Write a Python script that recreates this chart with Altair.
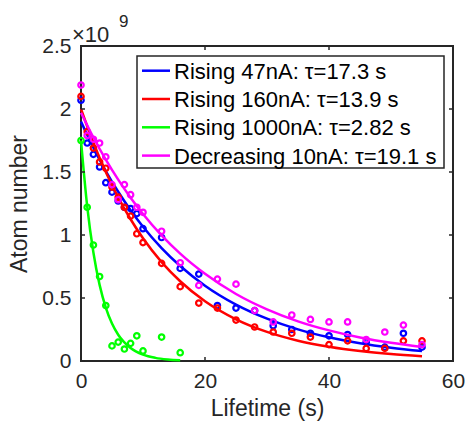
import altair as alt
import pandas as pd

# ---- data ----
t_pts = [0, 1, 2, 3, 4, 5, 6, 7, 8, 9, 10, 13, 16, 19, 22, 25, 28, 31, 34, 37, 40, 43, 46, 49, 52, 55]
blue_pts = [2.07, 1.73, 1.64, 1.54, 1.415, 1.34, 1.27, 1.22, 1.21, 1.17, 1.05, 0.98, 0.735, 0.69,
            0.44, 0.42, 0.40, 0.28, 0.25, 0.22, 0.20, 0.21, 0.15, 0.11, 0.22, 0.11]
red_pts = [2.10, 1.82, 1.69, 1.58, 1.53, 1.38, 1.30, 1.22, 1.15, 1.01, 0.94, 0.775, 0.59, 0.46,
           0.42, 0.325, 0.27, 0.23, 0.22, 0.19, 0.13, 0.16, 0.10, 0.10, 0.16, 0.16]
magenta_pts = [2.19, 1.79, 1.76, 1.73, 1.62, 1.40, 1.28, 1.40, 1.32, 1.22, 1.18, 1.03, 0.78, 0.60,
               0.65, 0.61, 0.40, 0.31, 0.365, 0.33, 0.31, 0.31, 0.17, 0.23, 0.285, 0.13]
t_green = [0, 1, 2, 3, 4, 5, 6, 7, 8, 9, 10, 13, 16]
green_pts = [1.75, 1.22, 0.92, 0.67, 0.44, 0.12, 0.15, 0.095, 0.14, 0.20, 0.08, 0.19, 0.066]

t_fit = [0, 2, 4, 6, 8, 10, 13, 16, 20, 25, 30, 35, 40, 45, 50, 55]
blue_fit = [1.90, 1.693, 1.508, 1.343, 1.197, 1.066, 0.896, 0.754, 0.598, 0.448, 0.336, 0.251,
            0.188, 0.141, 0.106, 0.079]
red_fit = [2.00, 1.732, 1.500, 1.299, 1.125, 0.974, 0.785, 0.633, 0.474, 0.331, 0.231, 0.161,
           0.113, 0.0786, 0.0548, 0.0382]
magenta_fit = [1.97, 1.774, 1.598, 1.439, 1.296, 1.167, 0.997, 0.852, 0.692, 0.532, 0.410, 0.315,
               0.243, 0.187, 0.144, 0.111]
t_fit_green = [0, 1, 2, 3, 4, 5, 6, 8, 10, 12, 14, 16]
green_fit = [1.75, 1.227, 0.861, 0.604, 0.424, 0.297, 0.208, 0.103, 0.0505, 0.0248, 0.0122, 0.006]

labels = ["Rising 47nA: τ=17.3 s", "Rising 160nA: τ=13.9 s",
          "Rising 1000nA: τ=2.82 s", "Decreasing 10nA: τ=19.1 s"]
colors = ["#0000ff", "#ff0000", "#00ff00", "#ff00ff"]
x_ticks = [0, 20, 40, 60]
y_ticks = [0, 0.5, 1, 1.5, 2, 2.5]

W, H = 372, 315
FONT = "Liberation Sans"
INK = "#262626"

xscale = alt.Scale(domain=[0, 60], nice=False, zero=False)
yscale = alt.Scale(domain=[0, 2.5], nice=False, zero=False)

xaxis = alt.Axis(values=x_ticks, title="Lifetime (s)", ticks=False, domain=False, grid=False,
                 labelFlush=False, labelOverlap=False,
                 labelFontSize=21, titleFontSize=23, labelPadding=9, titlePadding=6,
                 labelColor=INK, titleColor=INK, labelFont=FONT, titleFont=FONT,
                 titleFontWeight="normal")
yaxis = alt.Axis(values=y_ticks, title="Atom number", ticks=False, domain=False, grid=False,
                 labelFlush=False, labelOverlap=False,
                 format=".2~f", labelFontSize=21, titleFontSize=23, labelPadding=10,
                 titlePadding=10, labelColor=INK, titleColor=INK, labelFont=FONT,
                 titleFont=FONT, titleFontWeight="normal")

X = lambda f: alt.X(f, scale=xscale, axis=xaxis)
Y = lambda f: alt.Y(f, scale=yscale, axis=yaxis)

series = [
    (t_pts, blue_pts, t_fit, blue_fit),
    (t_pts, red_pts, t_fit, red_fit),
    (t_green, green_pts, t_fit_green, green_fit),
    (t_pts, magenta_pts, t_fit, magenta_fit),
]

layers = []
for (tp, yp, tf, yf), col in zip(series, colors):
    pts = pd.DataFrame({"t": tp, "n": yp})
    fit = pd.DataFrame({"t": tf, "n": yf})
    layers.append(
        alt.Chart(pts).mark_point(filled=False, size=30, strokeWidth=2.2, color=col, opacity=1)
        .encode(x=X("t:Q"), y=Y("n:Q"))
    )
    layers.append(
        alt.Chart(fit).mark_line(strokeWidth=2.5, color=col, interpolate="monotone")
        .encode(x=X("t:Q"), y=Y("n:Q"))
    )

# inward ticks on all four sides
xt = pd.DataFrame({"t": x_ticks})
yt = pd.DataFrame({"n": y_ticks})
for y0, y1 in [(H, H - 4), (0, 4)]:
    layers.append(alt.Chart(xt).mark_rule(color=INK, strokeWidth=1.5).encode(
        x=X("t:Q"), y=alt.value(y0), y2=alt.value(y1)))
for x0, x1 in [(0, 4), (W, W - 4)]:
    layers.append(alt.Chart(yt).mark_rule(color=INK, strokeWidth=1.5).encode(
        y=Y("n:Q"), x=alt.value(x0), x2=alt.value(x1)))

one = pd.DataFrame({"a": [0]})
# legend box
layers.append(alt.Chart(one).mark_rect(fill="white", stroke=INK, strokeWidth=1.5).encode(
    x=alt.value(56), x2=alt.value(363), y=alt.value(10), y2=alt.value(122)))
for i, (lab, col) in enumerate(zip(labels, colors)):
    yy = 24.7 + 28.3 * i
    layers.append(alt.Chart(one).mark_rule(color=col, strokeWidth=2.5).encode(
        x=alt.value(61), x2=alt.value(89), y=alt.value(yy)))
    layers.append(alt.Chart(one).mark_text(align="left", baseline="middle", fontSize=22,
                                          font=FONT, color="black").encode(
        x=alt.value(93), y=alt.value(yy + 1), text=alt.value(lab)))

# exponent label
layers.append(alt.Chart(one).mark_text(align="left", baseline="alphabetic", fontSize=22,
                                       font=FONT, color=INK).encode(
    x=alt.value(-9), y=alt.value(-4), text=alt.value("×10")))
layers.append(alt.Chart(one).mark_text(align="left", baseline="alphabetic", fontSize=17,
                                       font=FONT, color=INK).encode(
    x=alt.value(38), y=alt.value(-19), text=alt.value("9")))

chart = alt.layer(*layers).properties(
    width=W, height=H,
    autosize=alt.AutoSizeParams(type="none"),
    padding={"left": 81, "top": 46, "right": 15, "bottom": 71},
    background="white",
).configure_view(stroke=INK, strokeWidth=2)

chart.save("out.html", embed_options={"renderer": "svg", "actions": False})
